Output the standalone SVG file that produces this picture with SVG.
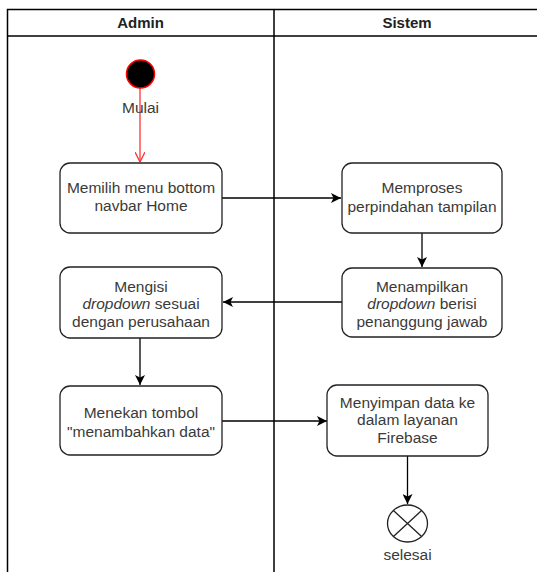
<svg xmlns="http://www.w3.org/2000/svg" width="537" height="572" viewBox="0 0 537 572">
<defs>
<marker id="arr" viewBox="0 0 10 10" refX="10" refY="5" markerWidth="10" markerHeight="10" markerUnits="userSpaceOnUse" orient="auto">
<path d="M0,0 L10,5 L0,10 L2.5,5 Z" fill="#000"/>
</marker>
<marker id="open" viewBox="0 0 10 10" refX="10" refY="5" markerWidth="10" markerHeight="10" markerUnits="userSpaceOnUse" orient="auto">
<path d="M0,0 L10,5 L0,10" fill="none" stroke="#ff3333" stroke-width="1.3"/>
</marker>
</defs>
<style>
.lane{fill:none;stroke:#000;stroke-width:1.5}
.box{fill:#fff;stroke:#222;stroke-width:1.3}
.t{font-family:"Liberation Sans",Arial,sans-serif;font-size:15.5px;fill:#3a3a3a;text-anchor:middle}
.h{font-family:"Liberation Sans",Arial,sans-serif;font-size:15px;font-weight:bold;fill:#222;text-anchor:middle}
.c{fill:none;stroke:#000;stroke-width:1.3}
</style>
<rect width="537" height="572" fill="#fff"/>
<g id="lanes">
<path class="lane" d="M7.5,572 V9.5 H540 M7.5,36 H540 M274,9.5 V572"/>
<text class="h" x="140.5" y="28">Admin</text>
<text class="h" x="407" y="28">Sistem</text>
</g>
<g id="connectors">
<line x1="140" y1="88" x2="140" y2="162" stroke="#ff3333" stroke-width="1.3" marker-end="url(#open)"/>
<line class="c" x1="222" y1="198" x2="341" y2="198" marker-end="url(#arr)"/>
<line class="c" x1="422" y1="233" x2="422" y2="267" marker-end="url(#arr)"/>
<line class="c" x1="342" y1="302" x2="223" y2="302" marker-end="url(#arr)"/>
<line class="c" x1="140" y1="338" x2="140" y2="385" marker-end="url(#arr)"/>
<line class="c" x1="222" y1="421" x2="327" y2="421" marker-end="url(#arr)"/>
<line class="c" x1="407.5" y1="456" x2="407.5" y2="504" marker-end="url(#arr)"/>
</g>
<g id="start">
<circle cx="140.5" cy="74" r="14" fill="#000" stroke="#ff0000" stroke-width="1.5"/>
<text class="t" x="140.5" y="113">Mulai</text>
</g>
<g id="n1">
<rect class="box" x="60" y="163" width="162" height="70" rx="10"/>
<text class="t" x="141" y="193">Memilih menu bottom</text>
<text class="t" x="141" y="211">navbar Home</text>
</g>
<g id="n2">
<rect class="box" x="342" y="163" width="160" height="70" rx="10"/>
<text class="t" x="422" y="193">Memproses</text>
<text class="t" x="422" y="212">perpindahan tampilan</text>
</g>
<g id="n3">
<rect class="box" x="342" y="268" width="160" height="69" rx="10"/>
<text class="t" x="422" y="292">Menampilkan</text>
<text class="t" x="422" y="309"><tspan font-style="italic">dropdown</tspan> berisi</text>
<text class="t" x="422" y="327">penanggung jawab</text>
</g>
<g id="n4">
<rect class="box" x="60" y="267" width="162" height="71" rx="10"/>
<text class="t" x="141" y="292">Mengisi</text>
<text class="t" x="141" y="309"><tspan font-style="italic">dropdown</tspan> sesuai</text>
<text class="t" x="141" y="327">dengan perusahaan</text>
</g>
<g id="n5">
<rect class="box" x="60" y="386" width="162" height="69" rx="10"/>
<text class="t" x="141" y="418">Menekan tombol</text>
<text class="t" x="141" y="437">"menambahkan data"</text>
</g>
<g id="n6">
<rect class="box" x="327" y="385" width="161" height="71" rx="10"/>
<text class="t" x="407.5" y="408">Menyimpan data ke</text>
<text class="t" x="407.5" y="425">dalam layanan</text>
<text class="t" x="407.5" y="443">Firebase</text>
</g>
<g id="end">
<ellipse cx="407.5" cy="523.5" rx="20" ry="18.5" fill="#fff" stroke="#222" stroke-width="1.3"/>
<path d="M393.4,510.4 L421.6,536.6 M421.6,510.4 L393.4,536.6" stroke="#222" stroke-width="1.3"/>
<text class="t" x="407.5" y="560">selesai</text>
</g>
</svg>
